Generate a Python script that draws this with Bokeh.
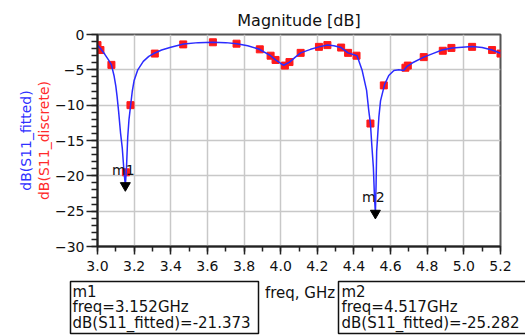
from bokeh.plotting import figure
from bokeh.models import (Range1d, SingleIntervalTicker, Title, ColumnDataSource,
                          PrintfTickFormatter)
from bokeh.layouts import column
from bokeh.core.properties import value
from bokeh.embed import file_html
from bokeh.resources import INLINE

# ---------------- data ----------------
freq_fit = [3.000, 3.020, 3.040, 3.060, 3.076, 3.090, 3.100, 3.107, 3.115, 3.126,
            3.135, 3.145, 3.152, 3.158, 3.165, 3.172, 3.180, 3.190, 3.200, 3.220,
            3.250, 3.280, 3.310, 3.350, 3.400, 3.470, 3.550, 3.630, 3.700, 3.760,
            3.820, 3.880, 3.945, 3.972, 4.000, 4.017, 4.048, 4.080, 4.109, 4.163,
            4.209, 4.255, 4.290, 4.330, 4.368, 4.417, 4.445, 4.469, 4.481, 4.490,
            4.497, 4.506, 4.512, 4.517, 4.521, 4.524, 4.536, 4.545, 4.567, 4.590,
            4.618, 4.645, 4.672, 4.690, 4.720, 4.781, 4.830, 4.881, 4.936, 4.990,
            5.045, 5.100, 5.154, 5.200]
db_fit = [-1.5, -2.1, -2.8, -3.6, -4.3, -5.8, -7.3, -8.8, -10.8, -14.0,
          -16.0, -19.5, -21.37, -19.0, -14.5, -12.0, -10.2, -8.0, -6.5, -5.0,
          -3.8, -3.1, -2.65, -2.2, -1.8, -1.35, -1.15, -1.1, -1.15, -1.3,
          -1.6, -2.05, -3.0, -3.6, -4.1, -4.35, -3.9, -3.2, -2.6, -2.1,
          -1.75, -1.5, -1.6, -1.85, -2.6, -3.0, -5.1, -7.9, -10.8, -12.6,
          -15.5, -18.8, -23.0, -25.28, -21.0, -16.5, -11.7, -9.4, -7.1, -5.8,
          -5.1, -5.0, -5.1, -4.5, -4.0, -3.2, -2.7, -2.2, -1.9, -1.8,
          -1.7, -1.85, -2.2, -2.65]

freq_disc = [3.000, 3.016, 3.076, 3.155, 3.180, 3.313, 3.468, 3.630, 3.759, 3.886,
             3.945, 3.972, 4.023, 4.048, 4.109, 4.209, 4.255, 4.330, 4.368, 4.414,
             4.490, 4.563, 4.681, 4.694, 4.781, 4.885, 4.932, 5.045, 5.154, 5.200]
db_disc = [-1.5, -2.2, -4.3, -19.5, -10.0, -2.7, -1.4, -1.1, -1.3, -2.1,
           -3.0, -3.6, -4.4, -3.9, -2.6, -1.75, -1.5, -1.85, -2.6, -3.0,
           -12.6, -7.2, -4.7, -4.4, -3.2, -2.3, -1.9, -1.75, -2.2, -2.7]

marker_names = ["m1", "m2"]
marker_freq = [3.152, 4.517]
marker_db = [-21.373, -25.282]

title_text = "Magnitude [dB]"
x_label = "freq, GHz"
y_label_fit = "dB(S11_fitted)"
y_label_disc = "dB(S11_discrete)"

FONT = "DejaVu Sans"
INK = "#111111"

# ---------------- main chart ----------------
p = figure(output_backend="svg", toolbar_location=None,
           width=525, height=278,
           min_border_left=97, min_border_right=25,
           min_border_top=34, min_border_bottom=32,
           x_range=Range1d(3.0, 5.2), y_range=Range1d(-30, 0),
           background_fill_color="white", border_fill_color="white")
p.frame_align = False

p.title.text = title_text
p.title.align = "center"
p.title.text_font = FONT
p.title.text_font_size = "16px"
p.title.text_font_style = "normal"
p.title.text_color = INK

p.outline_line_color = "#555555"
p.outline_line_width = 2

p.xaxis.ticker = SingleIntervalTicker(interval=0.2, num_minor_ticks=2)
p.yaxis.ticker = SingleIntervalTicker(interval=5, num_minor_ticks=5)
p.xaxis.formatter = PrintfTickFormatter(format="%.1f")
p.xgrid.ticker = p.xaxis.ticker
p.ygrid.ticker = p.yaxis.ticker
for g in (p.xgrid, p.ygrid):
    g.grid_line_color = "#c8c8c8"
    g.grid_line_width = 1.5

for ax in (p.xaxis, p.yaxis):
    ax.axis_line_color = "#222222"
    ax.axis_line_width = 2
    ax.major_tick_line_color = "#222222"
    ax.minor_tick_line_color = "#222222"
    ax.major_tick_line_width = 1.5
    ax.minor_tick_line_width = 1.5
    ax.major_tick_in = 0
    ax.minor_tick_in = 0
    ax.major_label_text_font = FONT
    ax.major_label_text_font_size = "14px"
    ax.major_label_text_color = INK

p.yaxis.major_tick_out = 11
p.yaxis.minor_tick_out = 6
p.yaxis.major_label_standoff = 2
p.xaxis.major_tick_out = 8
p.xaxis.minor_tick_out = 5
p.xaxis.major_label_standoff = 6

# coloured y-axis titles (red next to the axis, blue outside)
p.add_layout(Title(text=y_label_disc, align="center", text_color="#ff2a2a",
                   text_font=FONT, text_font_size="14px",
                   text_font_style="normal", standoff=0, offset=-9), "left")
p.add_layout(Title(text=y_label_fit, align="center", text_color="#3030ff",
                   text_font=FONT, text_font_size="14px",
                   text_font_style="normal", standoff=0, offset=-8), "left")

# discrete data (red squares), fitted curve (blue line)
p.scatter(freq_disc, db_disc, marker="square", size=7,
          fill_color="#ff1a1a", line_color="#ff1a1a")
p.line(freq_fit, db_fit, line_color="#2b2bff", line_width=1.5)

# markers
msrc = ColumnDataSource(dict(x=marker_freq, y=marker_db, name=marker_names))
p.scatter("x", "y", source=msrc, marker="inverted_triangle", size=10,
          fill_color="black", line_color="black")
p.text("x", "y", text="name", source=msrc, text_align="center",
       text_baseline="bottom", y_offset=-8, x_offset=-2,
       text_font=value(FONT), text_font_size="14px", text_color=INK)

# ---------------- marker readouts + x label (strip below) ----------------
q = figure(output_backend="svg", toolbar_location=None,
           width=525, height=57, min_border=0,
           min_border_left=0, min_border_right=0,
           min_border_top=0, min_border_bottom=0,
           x_range=Range1d(0, 525), y_range=Range1d(335, 278),
           x_axis_type=None, y_axis_type=None,
           background_fill_color="white", border_fill_color="white")
q.frame_align = False
q.outline_line_color = None
q.xgrid.visible = False
q.ygrid.visible = False

box_left = [70, 338]
box_right = [258, 560]
text_left = [72, 341]
line_y = [291, 306.5, 322]

q.quad(left=box_left, right=box_right, top=[281, 281], bottom=[333, 333],
       fill_alpha=0, line_color=INK, line_width=1.5)

tx, ty, tt = [], [], []
for i in range(len(marker_names)):
    lines = [marker_names[i],
             f"freq={marker_freq[i]:.3f}GHz",
             f"dB(S11_fitted)={marker_db[i]:.3f}"]
    for t, yy in zip(lines, line_y):
        tx.append(text_left[i])
        ty.append(yy)
        tt.append(t)
q.text(tx, ty, text=tt, text_align="left", text_baseline="middle",
       text_font=value(FONT), text_font_size="15px", text_color=INK)
q.text([299.5], [292], text=[x_label], text_align="center",
       text_baseline="middle", text_font=value(FONT), text_font_size="15px",
       text_color=INK)

layout = column(p, q, spacing=0)
open("out.html", "w").write(file_html(layout, INLINE))
